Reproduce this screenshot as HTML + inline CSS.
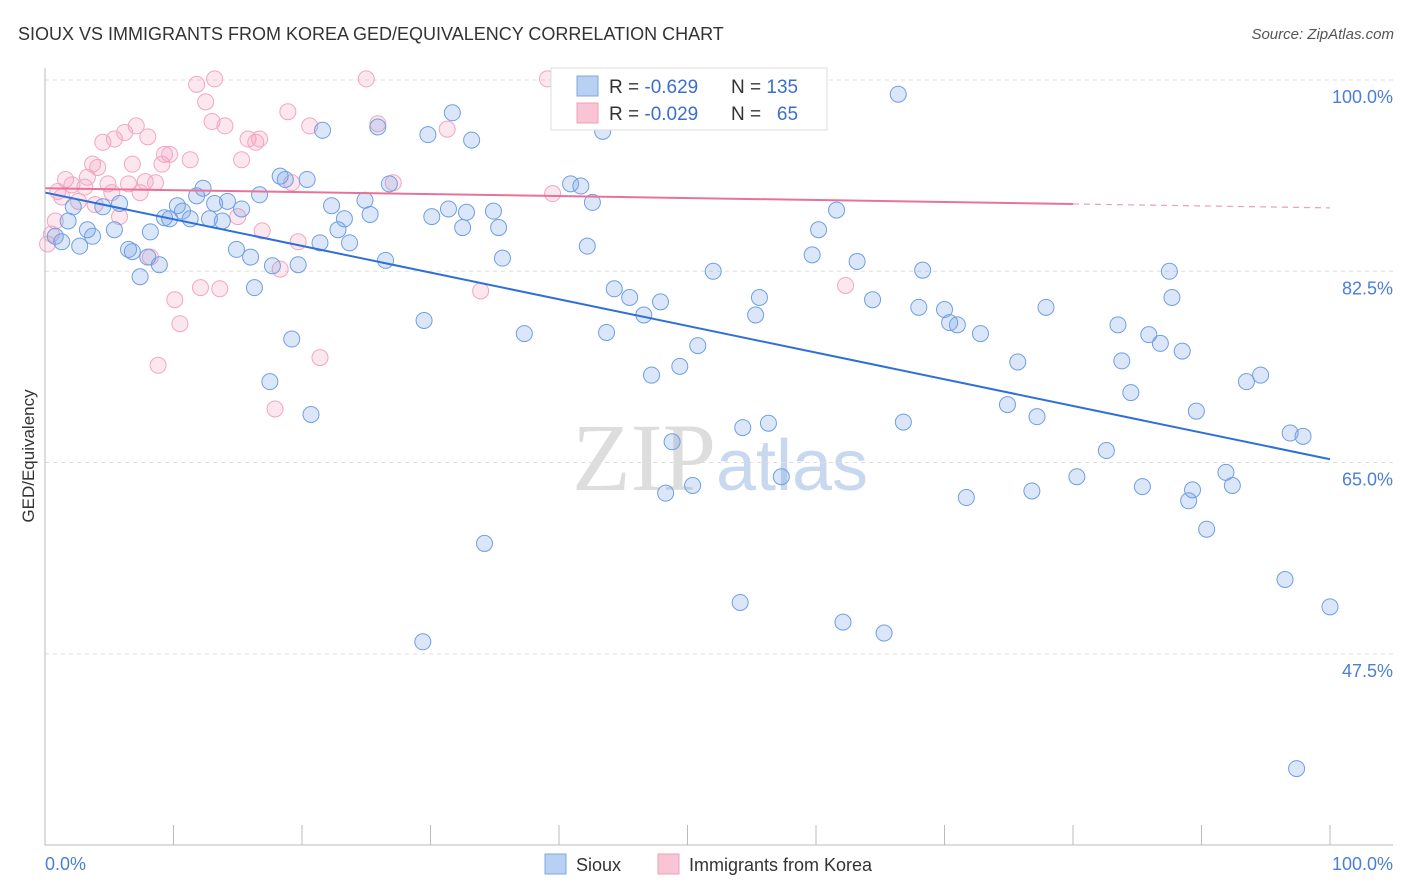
<!DOCTYPE html>
<html><head><meta charset="utf-8"><style>
body{margin:0;background:#fff;font-family:"Liberation Sans",sans-serif;}
#wrap{position:relative;width:1406px;height:892px;overflow:hidden;}
</style></head><body>
<div id="wrap">
<svg id="svg" width="1406" height="892" xmlns="http://www.w3.org/2000/svg">
<text x="18" y="40" font-size="18" fill="#333">SIOUX VS IMMIGRANTS FROM KOREA GED/EQUIVALENCY CORRELATION CHART</text>
<text x="1394" y="39" font-size="15" fill="#555" font-style="italic" text-anchor="end">Source: ZipAtlas.com</text>
<text x="720" y="490" font-size="96" fill="#ddd" text-anchor="middle" font-family="Liberation Serif,serif">ZIP<tspan fill="#c8d8ee" font-family="Liberation Sans,sans-serif" font-size="72">atlas</tspan></text>
<text x="34" y="456" font-size="17" fill="#333" transform="rotate(-90 34 456)" text-anchor="middle">GED/Equivalency</text>
<g id="grid"></g><g id="marks"></g>
<line x1="45" y1="68" x2="45" y2="845" stroke="#bbb"/>
<line x1="45" y1="845" x2="1393" y2="845" stroke="#bbb"/>
<text x="45" y="870" font-size="18" fill="#4a7fd6">0.0%</text>
<text x="1393" y="870" font-size="18" fill="#4a7fd6" text-anchor="end">100.0%</text>
<g>
<rect x="551" y="68" width="276" height="62" fill="#fff" stroke="#ddd"/>
<rect x="577" y="76" width="21" height="20" fill="#b8d0f2" stroke="#7fa6e0"/>
<rect x="577" y="103" width="21" height="20" fill="#f9c4d4" stroke="#f0a0bb"/>
<text x="609" y="93" font-size="19" fill="#333">R = <tspan fill="#3a6fd0">-0.629</tspan></text>
<text x="731" y="93" font-size="19" fill="#333">N = <tspan fill="#3a6fd0">135</tspan></text>
<text x="609" y="120" font-size="19" fill="#333">R = <tspan fill="#3a6fd0">-0.029</tspan></text>
<text x="731" y="120" font-size="19" fill="#333">N = <tspan fill="#3a6fd0">&#160; 65</tspan></text>
</g>
<g>
<rect x="545" y="854" width="21" height="20" fill="#b8d0f2" stroke="#7fa6e0"/>
<text x="576" y="871" font-size="18" fill="#333">Sioux</text>
<rect x="658" y="854" width="21" height="20" fill="#f9c4d4" stroke="#f0a0bb"/>
<text x="689" y="871" font-size="18" fill="#333">Immigrants from Korea</text>
</g>
</svg>
</div>
<script>
const yTicks=[100,82.5,65,47.5];
const yTickLabels=["100.0%","82.5%","65.0%","47.5%"];
const xTicks=[0,10,20,30,40,50,60,70,80,90,100];
const siouxX=[0.8,1.3,1.8,2.2,2.7,3.3,3.7,4.5,5.4,5.8,6.5,6.8,7.4,8.0,8.2,8.9,9.3,9.7,10.3,10.7,11.3,11.8,12.3,12.8,13.2,13.8,14.2,14.9,15.3,16.0,16.3,16.7,17.5,17.7,18.3,18.7,19.2,19.7,20.4,20.7,21.4,21.6,22.3,22.8,23.3,23.7,24.9,25.3,25.9,26.5,26.8,29.4,29.5,29.8,30.1,31.4,31.7,32.5,32.8,33.2,34.2,34.9,35.3,35.6,37.3,40.9,41.7,42.2,42.6,43.4,43.7,44.3,45.5,46.6,47.2,47.9,48.3,48.8,49.4,50.4,50.8,52.0,54.1,54.3,55.3,55.6,56.3,57.3,59.7,60.2,61.6,62.1,63.2,64.4,65.3,66.4,66.8,68.0,68.3,70.0,70.4,71.0,71.7,72.8,74.9,75.7,76.8,77.2,77.9,80.3,82.6,83.5,83.8,84.5,85.4,85.9,86.8,87.5,87.7,88.5,89.0,89.3,89.6,90.4,91.9,92.4,93.5,94.6,96.5,96.9,97.4,97.9,100.0];
const siouxY=[85.7,85.2,87.1,88.4,84.8,86.3,85.7,88.4,86.3,88.7,84.5,84.3,82.0,83.8,86.1,83.1,87.4,87.3,88.5,88.0,87.3,89.4,90.1,87.3,88.7,87.1,88.9,84.5,88.2,83.8,81.0,89.5,72.4,83.0,91.2,90.9,76.3,83.1,90.9,69.4,85.1,95.4,88.5,86.3,87.3,85.1,89.0,87.7,95.7,83.5,90.5,48.6,78.0,95.0,87.5,88.2,97.0,86.5,87.9,94.5,57.6,88.0,86.5,83.7,76.8,90.5,90.3,84.8,88.8,95.3,76.9,80.9,80.1,78.5,73.0,79.7,62.2,66.9,73.8,62.9,75.7,82.5,52.2,68.2,78.5,80.1,68.6,63.7,84.0,86.3,88.1,50.4,83.4,79.9,49.4,98.7,68.7,79.2,82.6,79.0,77.8,77.6,61.8,76.8,70.3,74.2,62.4,69.2,79.2,63.7,66.1,77.6,74.3,71.4,62.8,76.7,75.9,82.5,80.1,75.2,61.5,62.5,69.7,58.9,64.1,62.9,72.4,73.0,54.3,67.7,37.0,67.4,51.8];
const koreaX=[0.2,0.5,0.8,1.0,1.3,1.6,2.1,2.6,3.1,3.3,3.7,3.9,4.1,4.5,4.9,5.2,5.4,5.8,6.2,6.5,6.8,7.1,7.4,7.8,8.0,8.2,8.6,8.8,9.1,9.3,9.7,10.1,10.5,11.3,11.8,12.1,12.5,13.0,13.2,13.6,14.0,15.0,15.3,15.8,16.4,16.7,16.9,17.9,18.3,18.9,19.2,19.7,20.6,21.4,25.0,25.9,27.1,31.3,33.9,39.1,39.5,62.3];
const koreaY=[85.0,85.9,87.1,89.8,89.3,90.9,90.4,88.9,90.2,91.1,92.3,88.6,92.0,94.3,90.5,89.7,94.6,87.5,95.2,90.5,92.3,95.8,89.7,90.7,94.8,83.8,90.6,73.9,92.3,93.2,93.2,79.9,77.7,92.7,99.6,81.0,98.0,96.2,100.1,80.9,95.8,87.5,92.7,94.6,94.3,94.6,86.2,69.9,82.7,97.1,90.6,85.2,95.8,74.6,100.1,96.0,90.6,95.5,80.7,100.1,89.6,81.2];
const siouxTrend=[89.7,65.3];
const koreaTrend=[90.1,88.3];
const koreaSolidEnd=80;
const NS="http://www.w3.org/2000/svg";
function X(v){return 45+v*12.85;}
function Y(v){return 80+(100-v)*10.93;}
function mk(tag,attrs,parent){const e=document.createElementNS(NS,tag);for(const k in attrs)e.setAttribute(k,attrs[k]);parent.appendChild(e);return e;}
const grid=document.getElementById('grid'),marks=document.getElementById('marks');
yTicks.forEach((t,i)=>{
  const l=mk('line',{x1:45,x2:1393,y1:Y(t),y2:Y(t),stroke:'#ddd','stroke-dasharray':'4,4'},grid);
  
  
  const tx=mk('text',{x:1393,y:Y(t)+23,'font-size':18,fill:'#4a7fd6','text-anchor':'end'},grid);
  tx.textContent=yTickLabels[i];
  
  
});
xTicks.forEach(t=>{
  const l=mk('line',{x1:X(t),x2:X(t),y1:825,y2:845,stroke:'#bbb'},grid);
  
  
});
koreaX.forEach((x,i)=>{
  const c=mk('circle',{cx:X(x),cy:Y(koreaY[i]),r:8,fill:'rgba(244,160,190,0.25)',stroke:'#f2a6c0','stroke-width':1},marks);
  
  
});
siouxX.forEach((x,i)=>{
  const c=mk('circle',{cx:X(x),cy:Y(siouxY[i]),r:8,fill:'rgba(110,160,230,0.25)',stroke:'#6f9fe2','stroke-width':1},marks);
  
  
});
const kAt=v=>koreaTrend[0]+(koreaTrend[1]-koreaTrend[0])*v/100;
const t1=mk('line',{x1:X(0),y1:Y(kAt(0)),x2:X(koreaSolidEnd),y2:Y(kAt(koreaSolidEnd)),stroke:'#e8729a','stroke-width':2},marks);


const t2=mk('line',{x1:X(koreaSolidEnd),y1:Y(kAt(koreaSolidEnd)),x2:X(100),y2:Y(kAt(100)),stroke:'#e8a0b8','stroke-width':1.2,'stroke-dasharray':'6,5'},marks);


const t3=mk('line',{x1:X(0),y1:Y(siouxTrend[0]),x2:X(100),y2:Y(siouxTrend[1]),stroke:'#2e6fd8','stroke-width':2},marks);


</script>
</body></html>
